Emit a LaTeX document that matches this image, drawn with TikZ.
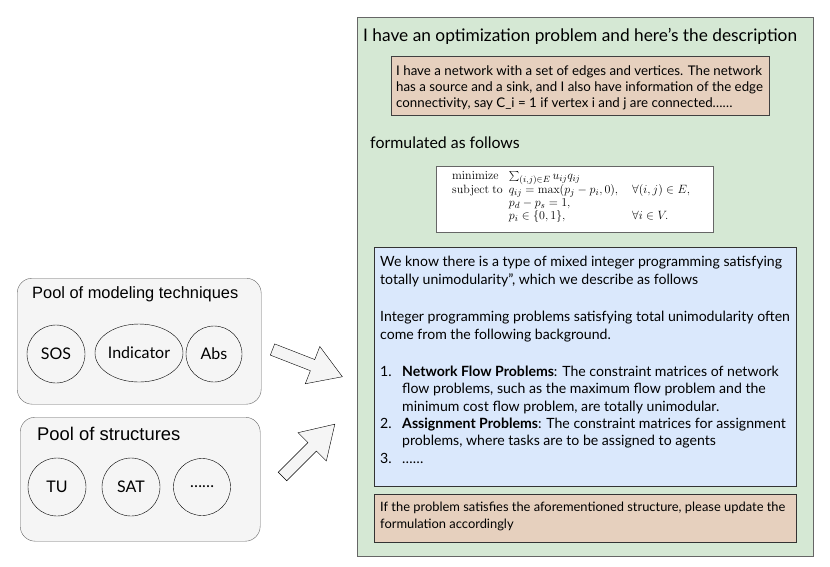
\documentclass[tikz,border=0pt]{standalone}
\usepackage[no-math]{fontspec}
\setmainfont{Lato}
\newfontfamily\headfont{Liberation Sans}
\usetikzlibrary{positioning, shapes.geometric}

\definecolor{promptgreen}{RGB}{213,232,212}
\definecolor{notetan}{RGB}{230,208,190}
\definecolor{infoblue}{RGB}{218,232,252}
\definecolor{poolgray}{RGB}{245,245,245}
\definecolor{edgegray}{RGB}{102,102,102}

\tikzset{
	panel/.style = {draw = edgegray, anchor = north west, inner sep = 0pt},
	pool/.style = {draw = edgegray, fill = poolgray, rounded corners = 15pt,
		anchor = north west, inner sep = 0pt},
	prose/.style = {anchor = base west, align = left, inner sep = 0pt},
	item/.style = {draw, circle, inner sep = 0pt, font = \fontsize{16}{18}\selectfont},
	blockarrow/.style = {draw, fill = poolgray, line join = miter}
}

\begin{document}
\begin{tikzpicture}[x = 1pt, y = -1pt]

	\useasboundingbox (0, 0) rectangle (830, 566);

	% The prompt on the right (multi-line texts sit on their last baseline)

	\node [panel, fill = promptgreen, minimum width = 456pt, minimum height = 539pt] (prompt) at (357, 17) {};
	\node [prose, font = \fontsize{17.3}{20}\selectfont] (ask) at (363, 41)
		{I have an optimization problem and here’s the description};

	\node [panel, draw = black!75, fill = notetan, minimum width = 378pt, minimum height = 59pt] (network) at (391, 56) {};
	\node [prose, font = \fontsize{13.3}{16}\selectfont] (networktext) at (396, 107)
		{I have a network with a set of edges and vertices. The network\\
		has a source and a sink, and I also have information of the edge\\
		connectivity, say C\_i = 1 if vertex i and j are connected\dots\dots};

	\node [prose, font = \fontsize{15.9}{18}\selectfont] (formulated) at (370, 148) {formulated as follows};

	% The formulation

	\node [panel, fill = white, minimum width = 277pt, minimum height = 66pt] (formbox) at (436, 166) {};
	\node [anchor = west, inner sep = 0pt, font = \fontsize{13}{13}\selectfont] (form) at (452, 197)
		{$\begin{array}{@{}l@{\hspace{6pt}}l@{\hspace{14pt}}l@{}}
			\mathrm{minimize} & \sum_{(i,j)\in E} u_{ij} q_{ij} & \\
			\mathrm{subject\ to} & q_{ij} = \max(p_j - p_i, 0), & \forall (i,j) \in E, \\
			& p_d - p_s = 1, & \\
			& p_i \in \{0,1\}, & \forall i \in V.
		\end{array}$};

	% The structure we know

	\node [panel, draw = black!80, fill = infoblue, minimum width = 422pt, minimum height = 239pt] (structure) at (374, 247) {};
	\node [prose, font = \fontsize{14.1}{17.3}\selectfont] (tutext) at (380, 463)
		{We know there is a type of mixed integer programming satisfying\\
		totally unimodularity", which we describe as follows\\[20.2pt]
		Integer programming problems satisfying total unimodularity often\\
		come from the following background.\\[20.2pt]
		\makebox[22pt][l]{1.}\textbf{Network Flow Problems}: The constraint matrices of network\\
		\hspace*{22pt}flow problems, such as the maximum flow problem and the\\
		\hspace*{22pt}minimum cost flow problem, are totally unimodular.\\
		\makebox[22pt][l]{2.}\textbf{Assignment Problems}: The constraint matrices for assignment\\
		\hspace*{22pt}problems, where tasks are to be assigned to agents\\
		\makebox[22pt][l]{3.}\dots\dots};

	% The request

	\node [panel, draw = black!80, fill = notetan, minimum width = 422pt, minimum height = 48pt] (request) at (374, 494) {};
	\node [prose, font = \fontsize{12.9}{17}\selectfont] (requesttext) at (380, 528)
		{If the problem satisfies the aforementioned structure, please update the\\
		formulation accordingly};

	% Pool of modeling techniques

	\node [pool, minimum width = 244pt, minimum height = 126pt] (techniques) at (17, 278) {};
	\node [prose, font = \headfont\fontsize{16.4}{18}\selectfont] (techtitle) at (32, 298) {Pool of modeling techniques};
	\node [item, minimum size = 58pt] (sos) at (56, 354) {SOS};
	\node [item, ellipse, minimum width = 88pt, minimum height = 58pt] (indicator) at (139, 353) {Indicator};
	\node [item, minimum size = 56pt] (abs) at (214, 354) {Abs};

	% Pool of structures

	\node [pool, minimum width = 240pt, minimum height = 124pt] (structures) at (20, 417) {};
	\node [prose, font = \headfont\fontsize{18.4}{20}\selectfont] (structtitle) at (37, 440) {Pool of structures};
	\node [item, minimum size = 58pt] (tu) at (57, 487) {TU};
	\node [item, minimum size = 58pt] (sat) at (131, 487) {SAT};
	\node [item, minimum size = 57pt] (more) at (202, 487) {\dots\dots};

	% Arrows into the prompt

	\begin{scope}[shift = {(272.5, 349.5)}, rotate = -21.3]
		\draw [blockarrow] (0, -6) -- (43, -6) -- (43, -20) -- (75, 0) -- (43, 20) -- (43, 6) -- (0, 6) -- cycle;
	\end{scope}

	\begin{scope}[shift = {(282.5, 476.5)}, rotate = 45]
		\draw [blockarrow] (0, -6) -- (42, -6) -- (42, -20) -- (74, 0) -- (42, 20) -- (42, 6) -- (0, 6) -- cycle;
	\end{scope}

\end{tikzpicture}
\end{document}
